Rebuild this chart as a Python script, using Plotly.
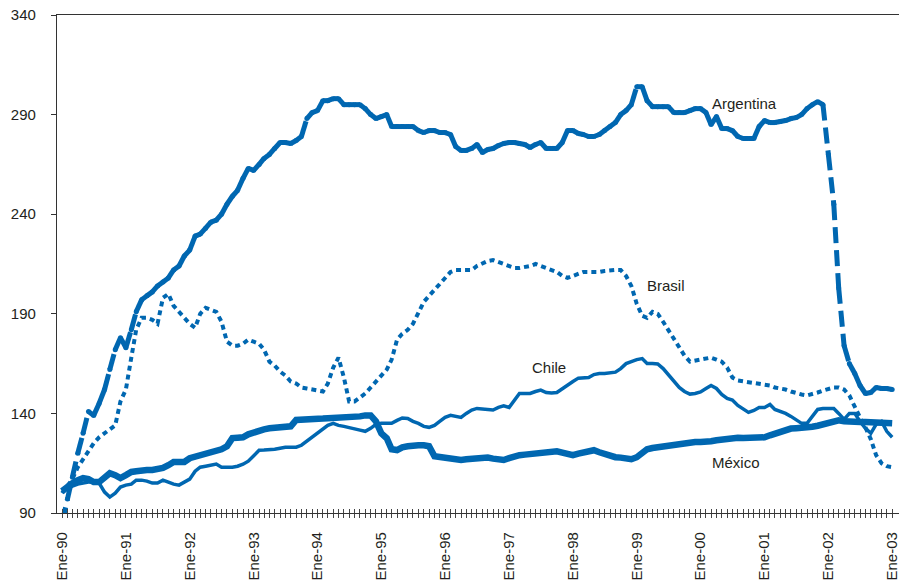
import pandas as pd
import plotly.graph_objects as go

# Monthly real effective exchange-rate indices, Jan-1990 .. Jan-2003
months = pd.date_range("1990-01-01", periods=157, freq="MS")

argentina = [
    85, 97, 108, 120, 130, 141, 139, 145, 152, 162, 172, 178,
    173, 182, 191, 197, 199, 201, 204, 206, 208, 212, 214, 219,
    222, 229, 230, 233, 236, 237, 240, 245, 249, 252, 258, 263,
    262, 265, 268, 270, 273, 276, 276, 275.5, 277, 279, 288, 291,
    292, 297, 297, 298, 298, 295, 295, 295, 295, 293, 290, 288,
    289, 290, 284, 284, 284, 284, 284, 282, 281, 282, 282, 281,
    281, 280, 274, 272, 272, 273, 275, 271, 272.5, 273, 274.5, 275.5,
    276, 276, 275.5, 275, 273.5, 275, 276, 273, 273, 273, 276, 282,
    282, 280.5, 280, 279, 279, 280, 282, 284, 286, 290, 292, 295,
    304, 304, 297, 294, 294, 294, 294, 291, 291, 291, 292, 293,
    293, 291, 285, 289, 283, 283, 282, 279, 278, 278, 278, 284,
    287, 286, 286, 286.5, 287, 288, 288.5, 290, 293, 295, 296.5, 295,
    270, 245, 203, 174, 165, 160, 154, 150, 150.5, 153, 152.5, 152.5,
    152,
]

brasil = [
    100, 104, 107, 113, 117, 121, 125, 128, 130, 132, 134, 146,
    152, 168, 182, 188, 188, 187, 185, 198, 200, 194, 191, 188,
    185, 183, 190, 193, 192, 191, 186, 176, 174, 174, 175, 177,
    176, 175, 172, 166, 164, 161, 159, 156, 155, 153, 152.5, 152,
    151.5, 151, 155, 163, 168, 158, 146, 146, 148, 150, 153, 156,
    159, 162, 167, 177, 180, 182, 185, 190, 196, 199, 202, 205,
    208, 211, 212, 212, 212, 212, 214, 215.5, 216.5, 217, 216, 215,
    214, 213, 213, 213.5, 214, 215, 214, 213, 212, 211, 209, 208,
    209, 210, 211, 211, 211, 211, 211.5, 212, 212, 212, 209, 204,
    195, 189, 188, 191, 190, 186, 182, 177, 173, 169, 166, 166.5,
    167, 167.5, 168, 167, 166, 163, 158, 156.5, 156, 155.5, 155, 154.5,
    154, 154, 153, 152.5, 152, 151, 150, 149.5, 149, 149.5, 150.5, 151.5,
    152.5, 153, 153, 152, 149, 143, 138, 133, 127, 119, 115, 113.5,
    113,
]

chile = [
    101, 102.5, 103.5, 104.5, 105, 105.5, 105.5, 105, 100.5, 98, 100, 103,
    104, 104.5, 106.5, 106.5, 106, 105, 105, 106.5, 105.5, 104.5, 104, 105.5,
    107, 111, 113, 113.5, 114, 114.6, 113, 113, 113, 113.5, 114.5, 116,
    119, 121.5, 121.6, 121.6, 122, 122.5, 123, 123, 123, 124, 126, 128,
    130, 132, 134, 135, 134, 133.5, 133, 132.5, 131.6, 131, 132.5, 134.5,
    135, 135, 135, 136.5, 137.7, 137.5, 136, 135, 133.5, 133, 134, 136,
    138, 139, 138.5, 138, 140, 141.7, 142.5, 142.3, 142, 141.7, 143, 143.8,
    143, 147, 150, 150, 150, 151, 151.7, 150.5, 150.2, 150.5, 152.5, 154,
    156, 157.7, 158, 158, 159.5, 160, 160, 160.2, 160.7, 162.5, 165, 166,
    167, 167.5, 165, 165, 164.8, 162.5, 159.5, 156, 153, 151, 149.7, 150,
    150.8, 152.5, 154, 152.5, 149.5, 147.5, 146.7, 144, 142, 140.5, 141.5, 143,
    143, 144.5, 142, 141, 140, 138.5, 137, 135, 135, 138.5, 142, 142.5,
    142.5, 142.5, 140, 137, 140, 140, 136, 132.5, 130, 134.5, 136, 131,
    128,
]

mexico = [
    101, 103.5, 105, 106.5, 107.5, 107, 105.5, 105.5, 107.5, 110, 109, 107.5,
    109, 110.6, 111, 111.6, 111.6, 111.6, 112, 112.6, 114, 115.6, 115.6, 115.6,
    117.5, 118.3, 118.6, 119.5, 120.3, 121, 122, 123.5, 127.6, 127.8, 128, 129.5,
    130.5, 131.5, 132, 132.5, 132.6, 132.6, 132.6, 133.5, 136.7, 136.7, 136.7, 136.8,
    137, 137.4, 137.6, 137.7, 137.7, 137.7, 137.7, 137.7, 138.5, 139, 139, 136,
    130, 127.5, 122, 121.6, 123, 123.5, 124, 124, 124, 123.5, 118.5, 118,
    117.5, 117, 116.6, 116.6, 117, 117.3, 117.5, 117.6, 117.8, 117.3, 116.8, 116.6,
    117.5, 118.5, 119, 119.3, 119.6, 119.8, 120, 120.3, 120.6, 121, 120.3, 119.5,
    119, 119.8, 120.5, 121, 121.5, 120.5, 119.5, 118.3, 118, 117.8, 117.3, 117,
    118, 120.5, 122, 122.6, 123, 123.3, 123.6, 124, 124.6, 125.3, 125.6, 125.6,
    125.6, 125.6, 126, 126.5, 127, 127, 127.3, 127.8, 127.6, 127.6, 127.6, 127.6,
    128, 129, 130, 131, 131.8, 132.4, 132.6, 132.6, 132.8, 133.3, 133.8, 134.5,
    135.5, 136.5, 136.5, 136, 135.7, 135.7, 135.7, 135.7, 135.7, 135.5, 135.3, 135.2,
    135,
]

year_labels = ["Ene-90", "Ene-91", "Ene-92", "Ene-93", "Ene-94", "Ene-95", "Ene-96",
               "Ene-97", "Ene-98", "Ene-99", "Ene-00", "Ene-01", "Ene-02", "Ene-03"]
y_ticks = [90, 140, 190, 240, 290, 340]

BLUE = "#0067b1"
INK = "#231f20"
FONT = "Liberation Sans, Arial, sans-serif"


def per_segment(xs, ys):
    """Split a series into one sub-path per segment so the dash pattern
    starts over at every data point."""
    sx, sy = [], []
    for i in range(len(xs) - 1):
        sx += [xs[i], xs[i + 1], None]
        sy += [ys[i], ys[i + 1], None]
    return sx, sy


fig = go.Figure()

mx = list(months)

ax, ay = per_segment(mx, argentina)
fig.add_trace(go.Scatter(x=ax, y=ay, mode="lines", connectgaps=False,
                         line=dict(color=BLUE, width=5, dash="16px,7px"),
                         hoverinfo="skip", showlegend=False))
fig.add_trace(go.Scatter(x=mx, y=argentina, mode="markers",
                         marker=dict(color=BLUE, size=5),
                         hoverinfo="skip", showlegend=False))

fig.add_trace(go.Scatter(x=mx, y=brasil, mode="lines",
                         line=dict(color=BLUE, width=4, dash="5px,4px"),
                         hoverinfo="skip", showlegend=False))

fig.add_trace(go.Scatter(x=mx, y=chile, mode="lines",
                         line=dict(color=BLUE, width=3.5),
                         hoverinfo="skip", showlegend=False))

fig.add_trace(go.Scatter(x=mx, y=mexico, mode="lines",
                         line=dict(color=BLUE, width=6.5),
                         hoverinfo="skip", showlegend=False))

# helper trace so the overlaid axis (inner half of the monthly ticks) is drawn
fig.add_trace(go.Scatter(x=[mx[0], mx[-1]], y=[None, None], xaxis="x2",
                         mode="lines", hoverinfo="skip", showlegend=False))

x_range = ["1989-12-03", "2003-02-09"]
tick_text = [year_labels[i // 12] if i % 12 == 0 else "" for i in range(len(mx))]

fig.update_layout(
    width=899, height=582,
    margin=dict(l=57, r=0, t=15, b=69),
    paper_bgcolor="white", plot_bgcolor="white",
    font=dict(family=FONT, size=15, color=INK),
    xaxis=dict(
        type="date", range=x_range,
        tickmode="array", tickvals=mx, ticktext=tick_text,
        tickangle=-90, ticks="outside", ticklen=4, tickwidth=1, tickcolor="#444",
        showline=True, linecolor="#333", linewidth=1.2, mirror=True,
        showgrid=False, zeroline=False, automargin=False,
        tickfont=dict(family=FONT, size=15, color=INK),
        ticklabelstandoff=8, ticklabeloverflow="allow",
    ),
    xaxis2=dict(
        type="date", range=x_range, overlaying="x", anchor="y", side="bottom",
        tickmode="array", tickvals=mx, ticktext=[""] * len(mx),
        ticks="inside", ticklen=4, tickwidth=1, tickcolor="#444",
        showline=False, showgrid=False, zeroline=False, automargin=False,
    ),
    yaxis=dict(
        range=[90, 340], tickmode="array", tickvals=y_ticks,
        ticks="outside", ticklen=5, tickwidth=1, tickcolor="#333",
        showline=True, linecolor="#333", linewidth=1.2,
        showgrid=False, zeroline=False, automargin=False,
        tickfont=dict(family=FONT, size=15, color=INK),
        ticklabelstandoff=12,
    ),
)

labels = [
    ("Argentina", "2000-09-08", 295.7),
    ("Brasil", "1999-06-18", 204.0),
    ("Chile", "1997-08-18", 163.0),
    ("México", "2000-07-23", 115.5),
]
for text, xd, yv in labels:
    fig.add_annotation(x=xd, y=yv, text=text, showarrow=False,
                       font=dict(family=FONT, size=15, color=INK),
                       xanchor="center", yanchor="middle")

fig.write_html("out.html")
